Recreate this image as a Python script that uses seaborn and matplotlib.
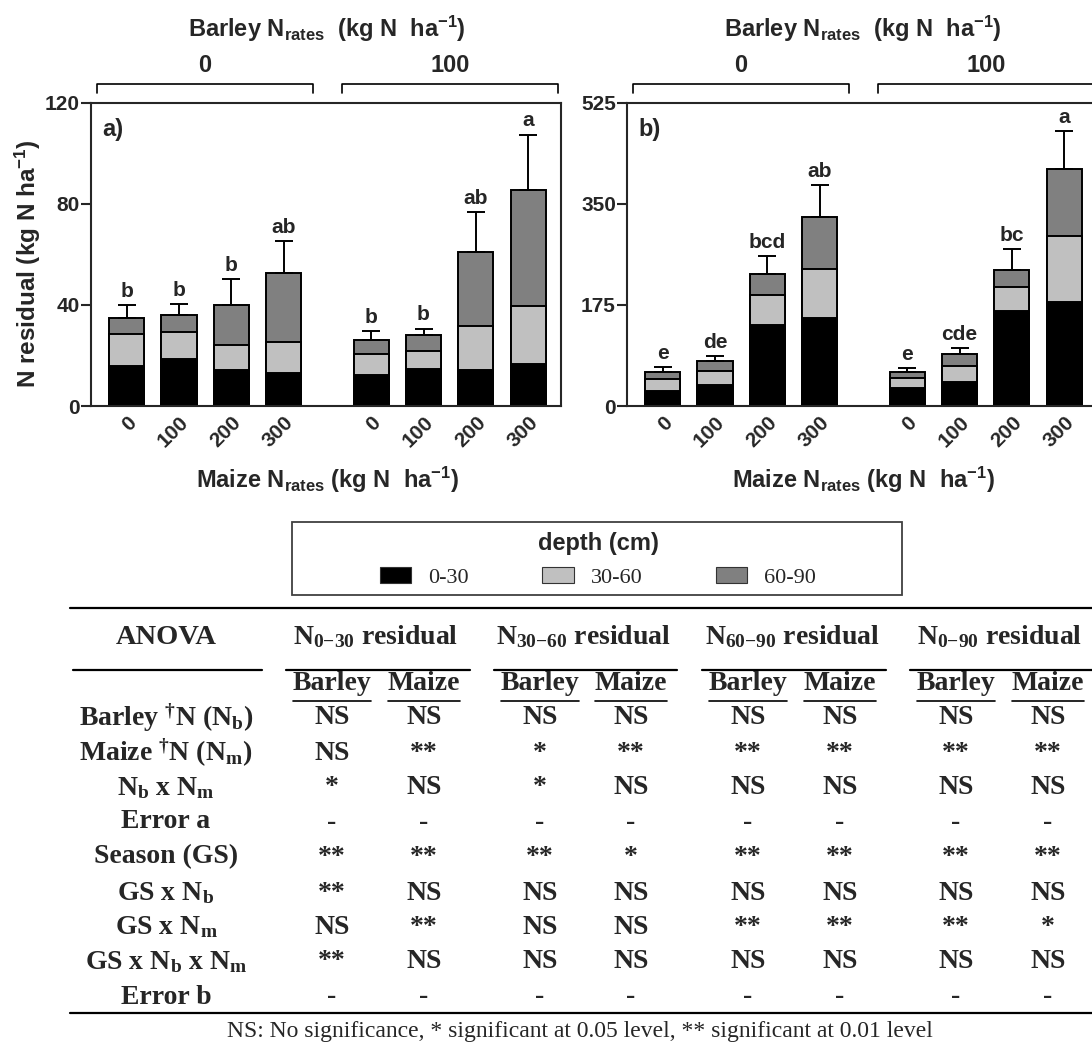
import numpy as np
import pandas as pd
import matplotlib
matplotlib.use("Agg")
import matplotlib.pyplot as plt
import seaborn as sns
from matplotlib.patches import Patch, Rectangle
from matplotlib.lines import Line2D
from matplotlib.transforms import Affine2D, blended_transform_factory

# ------------------------------------------------------------------ data
barley_rates = ["0", "100"]
maize_rates = ["0", "100", "200", "300"]
depths = ["0-30", "30-60", "60-90"]
depth_colors = ["#000000", "#c0c0c0", "#808080"]

# a) residual N per depth layer (kg N ha-1), barley 0 | barley 100, maize 0..300
a_0_30 = [16.0, 18.7, 14.2, 12.9, 12.2, 14.5, 14.2, 16.7]
a_30_60 = [12.4, 10.6, 10.1, 12.5, 8.3, 7.2, 17.6, 23.0]
a_60_90 = [6.4, 6.7, 15.5, 27.4, 5.8, 6.2, 29.2, 45.6]
a_se = [5.0, 4.2, 10.4, 12.4, 3.3, 2.7, 15.8, 22.1]
a_letters = ["b", "b", "b", "ab", "b", "b", "ab", "a"]

# b) residual N per depth layer (kg N ha-1)
b_0_30 = [25.7, 35.5, 140.1, 152.7, 30.3, 41.7, 164.7, 180.1]
b_30_60 = [21.2, 24.5, 52.6, 85.2, 18.3, 26.9, 40.6, 114.4]
b_60_90 = [12.0, 17.2, 35.5, 89.2, 10.3, 21.2, 30.9, 115.5]
b_se = [8.0, 8.6, 30.9, 55.5, 6.9, 10.3, 35.4, 66.4]
b_letters = ["e", "de", "bcd", "ab", "e", "cde", "bc", "a"]

# ANOVA summary
anova_terms = [
    "Barley $^\\mathregular{\u2020}$N (N$_\\mathregular{b}$)",
    "Maize $^\\mathregular{\u2020}$N (N$_\\mathregular{m}$)",
    "N$_\\mathregular{b}$ x N$_\\mathregular{m}$",
    "Error a",
    "Season (GS)",
    "GS x N$_\\mathregular{b}$",
    "GS x N$_\\mathregular{m}$",
    "GS x N$_\\mathregular{b}$ x N$_\\mathregular{m}$",
    "Error b",
]
anova_groups = ["N$_\\mathregular{0{-}30}$ residual", "N$_\\mathregular{30{-}60}$ residual",
                "N$_\\mathregular{60{-}90}$ residual", "N$_\\mathregular{0{-}90}$ residual"]
crops = ["Barley", "Maize"]
n0_30_barley = ["NS", "NS", "*", "-", "**", "**", "NS", "**", "-"]
n0_30_maize = ["NS", "**", "NS", "-", "**", "NS", "**", "NS", "-"]
n30_60_barley = ["NS", "*", "*", "-", "**", "NS", "NS", "NS", "-"]
n30_60_maize = ["NS", "**", "NS", "-", "*", "NS", "NS", "NS", "-"]
n60_90_barley = ["NS", "**", "NS", "-", "**", "NS", "**", "NS", "-"]
n60_90_maize = ["NS", "**", "NS", "-", "**", "NS", "**", "NS", "-"]
n0_90_barley = ["NS", "**", "NS", "-", "**", "NS", "**", "NS", "-"]
n0_90_maize = ["NS", "**", "NS", "-", "**", "NS", "*", "NS", "-"]
footnote = "NS: No significance, * significant at 0.05 level, ** significant at 0.01 level"

# ------------------------------------------------------------------ style
sns.set_style("ticks")
plt.rcParams.update({
    "font.family": ["Liberation Sans", "DejaVu Sans"],
    "font.weight": "bold",
    "mathtext.default": "regular",
    "axes.linewidth": 1.5,
})
SERIF = ["Liberation Serif", "DejaVu Serif"]

W, H = 1092, 1044
fig = plt.figure(figsize=(W / 100, H / 100), dpi=100)
# pixel coordinates measured from the top-left corner of the figure
px = Affine2D().scale(1 / W, -1 / H).translate(0, 1) + fig.transFigure

GROUP_GAP = 0.67
positions = [g * (len(maize_rates) + GROUP_GAP) + i
             for g in range(len(barley_rates)) for i in range(len(maize_rates))]
group_centers = [g * (len(maize_rates) + GROUP_GAP) + (len(maize_rates) - 1) / 2
                 for g in range(len(barley_rates))]


def draw_panel(ax, layers, se, letters, ymax, yticks, tag):
    tops = np.cumsum(np.array(layers, dtype=float), axis=0)
    frame = pd.DataFrame({
        "pos": np.tile(positions, len(depths)),
        "depth": np.repeat(depths, len(positions)),
        "top": tops.ravel(),
    })
    # cumulative bars drawn deepest layer first so the shallower ones sit on top
    sns.barplot(data=frame, x="pos", y="top", hue="depth",
                hue_order=depths[::-1], palette=dict(zip(depths, depth_colors)),
                native_scale=True, dodge=False, width=0.67, saturation=1,
                errorbar=None, edgecolor="black", linewidth=1.4,
                legend=False, ax=ax)
    total = tops[-1]
    ax.errorbar(positions, total, yerr=[np.zeros_like(total), se], fmt="none",
                ecolor="black", elinewidth=1.4, capsize=6.8, capthick=1.4, zorder=4)
    for x, y, e, s in zip(positions, total, se, letters):
        ax.annotate(s, (x, y + e), xytext=(0, 3), textcoords="offset points",
                    ha="center", va="bottom", fontsize=15, fontweight="bold")

    ax.set_xlim(-0.68, 8.29)
    ax.set_ylim(0, ymax)
    ax.set_yticks(yticks)
    ax.set_xticks(positions)
    ax.set_xticklabels(maize_rates * len(barley_rates), rotation=45, ha="right",
                       va="top", rotation_mode="anchor")
    ax.set_xlabel("")
    ax.set_ylabel("")
    for sp in ax.spines.values():
        sp.set_visible(True)
        sp.set_linewidth(1.5)
    ax.tick_params(axis="y", direction="out", length=7, width=1.5,
                   labelsize=15, pad=1)
    ax.tick_params(axis="x", length=0, labelsize=15, pad=5)
    for lbl in ax.get_xticklabels() + ax.get_yticklabels():
        lbl.set_fontweight("bold")

    tr = blended_transform_factory(ax.transData, ax.transAxes)
    ax.text(3.83, 1.217, "Barley N$_\\mathregular{rates}$  (kg N  ha$^\\mathregular{-1}$)",
            transform=tr, ha="center", va="baseline", fontsize=17, fontweight="bold")
    for c, lab in zip(group_centers, barley_rates):
        x0, x1 = c - 2.06, c + 2.06
        ax.add_line(Line2D([x0, x0, x1, x1], [1.032, 1.062, 1.062, 1.032],
                           transform=tr, color="black", lw=1.2, clip_on=False))
        ax.text(c, 1.10, lab, transform=tr, ha="center", va="baseline",
                fontsize=17, fontweight="bold")
    ax.text(3.83, -0.27, "Maize N$_\\mathregular{rates}$ (kg N  ha$^\\mathregular{-1}$)",
            transform=tr, ha="center", va="baseline", fontsize=17, fontweight="bold")
    ax.text(0.025, 0.91, tag, transform=ax.transAxes, ha="left", va="center",
            fontsize=17, fontweight="bold")


ax_a = fig.add_axes([91 / W, 1 - 406 / H, 469.7 / W, 303.3 / H])
ax_b = fig.add_axes([627 / W, 1 - 406 / H, 469.7 / W, 303.3 / H])
draw_panel(ax_a, [a_0_30, a_30_60, a_60_90], a_se, a_letters, 120, [0, 40, 80, 120], "a)")
draw_panel(ax_b, [b_0_30, b_30_60, b_60_90], b_se, b_letters, 525, [0, 175, 350, 525], "b)")
ax_a.text(-0.135, 0.47, "N residual (kg N ha$^\\mathregular{-1}$)", transform=ax_a.transAxes,
          rotation=90, ha="center", va="center", fontsize=17.5, fontweight="bold")

# ------------------------------------------------------------------ legend
handles = [Patch(facecolor=c, edgecolor="#333333", linewidth=0.8) for c in depth_colors]
fig.legend(handles, depths, loc="center", bbox_to_anchor=(598 / W, 1 - 560 / H),
           ncol=3, frameon=False, title="depth (cm)",
           title_fontproperties={"family": "Liberation Sans", "weight": "bold", "size": 17},
           prop={"family": "Liberation Serif", "weight": "normal", "size": 16},
           handlelength=1.4, handleheight=0.77, handletextpad=0.77,
           columnspacing=3.3, labelspacing=0.5, borderpad=0.2)
fig.add_artist(Rectangle((292, 595), 610, -73, transform=px, fill=False,
                         edgecolor="#404040", lw=1.3))

# ------------------------------------------------------------------ ANOVA table
def hline(x0, x1, y, lw):
    fig.add_artist(Line2D([x0, x1], [y, y], transform=px, color="black", lw=lw))


def ttext(x, y, s, size=20, weight="bold"):
    fig.text(x, y, s, transform=px, ha="center", va="center", fontsize=size,
             fontweight=weight, family=SERIF)


col_x = [332, 424, 540, 631, 748, 840, 956, 1048]
row_y = [718, 753, 788, 822, 857, 893, 927, 962, 997]
columns = [n0_30_barley, n0_30_maize, n30_60_barley, n30_60_maize,
           n60_90_barley, n60_90_maize, n0_90_barley, n0_90_maize]

hline(70, 1092, 608, 1.6)
ttext(166, 637, "ANOVA", size=20.5)
hline(73, 262, 670, 1.6)
for g, title in enumerate(anova_groups):
    xb, xm = col_x[2 * g], col_x[2 * g + 1]
    ttext((xb + xm) / 2 - 2, 637, title)
    hline(xb - 46, min(xm + 46, 1092), 670, 1.6)
    for x, crop, half in ((xb, crops[0], 39), (xm, crops[1], 36)):
        ttext(x, 683, crop)
        hline(x - half, x + half, 701, 1.2)
for term, y in zip(anova_terms, row_y):
    ttext(166, y, term)
for x, col in zip(col_x, columns):
    for y, v in zip(row_y, col):
        ttext(x, y, v)
hline(70, 1092, 1013, 1.6)
ttext(580, 1031, footnote, size=17, weight="normal")

fig.savefig("out.png", dpi=100)
